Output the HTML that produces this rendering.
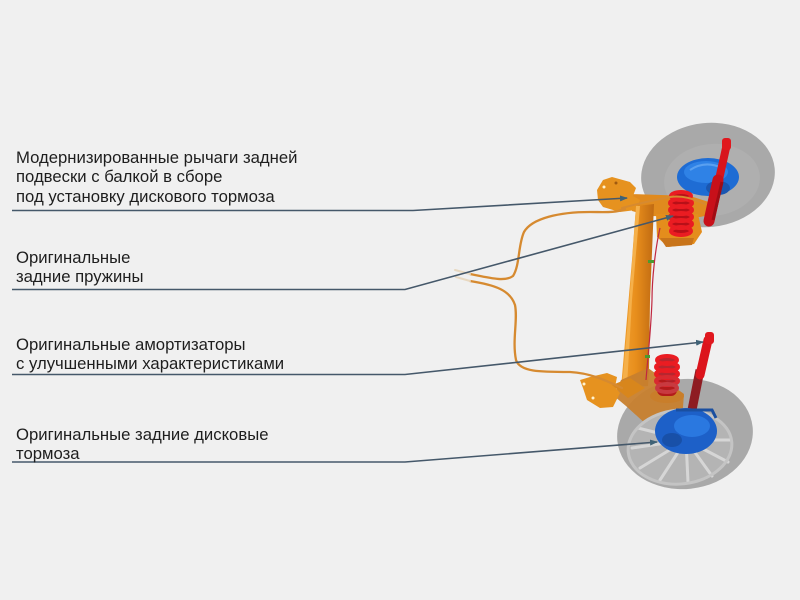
<!DOCTYPE html>
<html><head><meta charset="utf-8">
<style>
html,body{margin:0;padding:0;}
body{width:800px;height:600px;background:#f0f0f0;position:relative;overflow:hidden;font-family:"Liberation Sans",Arial,sans-serif;}
.t{position:absolute;left:16px;font-size:16.7px;line-height:19.5px;color:#1e1e1e;white-space:nowrap;}
svg{position:absolute;left:0;top:0;}
</style></head><body>
<svg width="800" height="600" viewBox="0 0 800 600">
<defs>
<marker id="ah" markerWidth="8" markerHeight="6" refX="7" refY="3" orient="auto" markerUnits="userSpaceOnUse">
<path d="M0,0 L8,3 L0,6 Z" fill="#3f6276"/>
</marker>
<linearGradient id="tube" x1="0" y1="0" x2="1" y2="0">
<stop offset="0" stop-color="#f0a030"/><stop offset="0.45" stop-color="#e88e1c"/><stop offset="1" stop-color="#c06a12"/>
</linearGradient>
</defs>

<!-- top wheel -->
<ellipse cx="708" cy="175" rx="67" ry="52" transform="rotate(-6 708 175)" fill="#a9a9a9"/>
<ellipse cx="712" cy="180" rx="48" ry="36" transform="rotate(-6 712 180)" fill="#afafaf"/>
<!-- top blue disc -->
<ellipse cx="708" cy="177" rx="31" ry="19" fill="#1e6cd4"/>
<ellipse cx="706" cy="172" rx="22" ry="11" fill="#2f82e6"/>
<path d="M690,170 Q705,160 722,168" stroke="#5aa0f0" stroke-width="2" fill="none"/>
<ellipse cx="718" cy="188" rx="12" ry="7" fill="#1a56b0"/>

<!-- top arm & bracket -->
<path d="M630,194 L690,196 L712,203 L714,214 L700,217 L650,216 L632,211 Z" fill="#e08a1e"/>
<path d="M597,190 L603,180 L612,177 L630,182 L636,188 L633,196 L640,200 L636,210 L620,212 L603,207 L598,200 Z" fill="#e6921f"/>
<circle cx="604" cy="187" r="1.5" fill="#fff3d0"/>
<circle cx="616" cy="183" r="1.5" fill="#a05a10"/>
<!-- beam tube -->
<path d="M636,206 L654,204 L650,300 L649,370 L648,386 L621,388 L626,330 L632,260 Z" fill="url(#tube)"/>
<path d="M636,206 L640,206 L632,300 L627,386 L622,387 L628,320 Z" fill="#f5b04a"/>
<!-- top spring seat -->
<path d="M656,214 L698,214 L702,232 L694,244 L668,247 L657,237 Z" fill="#e48d1c"/>
<path d="M660,238 L694,238 L692,245 L666,247 Z" fill="#c8741a"/>
<!-- top spring -->
<rect x="671" y="194" width="20" height="40" rx="6" fill="#b81018"/>
<g fill="none" stroke="#ea1c22" stroke-width="4">
<ellipse cx="681" cy="196" rx="10" ry="4"/>
<ellipse cx="681" cy="203" rx="11" ry="4"/>
<ellipse cx="681" cy="210" rx="11" ry="4"/>
<ellipse cx="681" cy="217" rx="11" ry="4"/>
<ellipse cx="681" cy="224" rx="11" ry="4"/>
<ellipse cx="681" cy="231" rx="10" ry="4"/>
</g>
<!-- top shock -->
<line x1="726" y1="148" x2="718" y2="184" stroke="#d8141c" stroke-width="8" stroke-linecap="round"/>
<line x1="718" y1="180" x2="709" y2="221" stroke="#c8101a" stroke-width="11" stroke-linecap="round"/>
<line x1="722" y1="182" x2="713" y2="220" stroke="#a00c14" stroke-width="3"/>
<rect x="722" y="138" width="9" height="12" rx="3" fill="#e0181e"/>

<!-- lower wheel -->
<ellipse cx="685" cy="434" rx="68" ry="55" transform="rotate(-6 685 434)" fill="#a9a9a9"/>
<!-- lower arm (behind, shaded) -->
<path d="M621,380 L648,368 L662,378 L684,394 L682,420 L668,432 L648,426 L626,406 L614,396 Z" fill="#c7802e" opacity="0.95"/>
<ellipse cx="680" cy="447" rx="52" ry="37" transform="rotate(-6 680 447)" fill="#b4b4b4"/>
<g stroke="#d6d6d6" stroke-width="3" stroke-linecap="round">
<line x1="686" y1="440" x2="632" y2="448"/>
<line x1="686" y1="440" x2="640" y2="468"/>
<line x1="686" y1="440" x2="660" y2="480"/>
<line x1="686" y1="440" x2="688" y2="482"/>
<line x1="686" y1="440" x2="712" y2="476"/>
<line x1="686" y1="440" x2="728" y2="462"/>
<line x1="686" y1="440" x2="730" y2="440"/>
<line x1="686" y1="440" x2="638" y2="428"/>
</g>
<ellipse cx="680" cy="447" rx="52" ry="37" transform="rotate(-6 680 447)" fill="none" stroke="#c4c4c4" stroke-width="3"/>
<!-- lower shock (behind wheel part) -->
<line x1="700" y1="370" x2="692" y2="410" stroke="#8e1c22" stroke-width="9"/>
<!-- lower blue hub -->
<ellipse cx="686" cy="431" rx="31" ry="23" fill="#1d60c8"/>
<ellipse cx="692" cy="426" rx="18" ry="11" fill="#2a78e0"/>
<path d="M676,410 L712,410 L716,418" stroke="#1a4fa0" stroke-width="3" fill="none"/>
<ellipse cx="672" cy="440" rx="10" ry="7" fill="#1850a8"/>

<!-- lower bracket plate -->
<path d="M580,380 L590,377 L607,373 L617,377 L615,387 L620,393 L613,407 L600,408 L587,400 L583,388 Z" fill="#e6921f"/>
<circle cx="584" cy="384" r="1.5" fill="#fff3d0"/>
<circle cx="593" cy="398" r="1.5" fill="#fff3d0"/>
<path d="M612,385 L630,378 L645,388 L628,398 Z" fill="#d8861c"/>
<!-- lower spring seat -->
<ellipse cx="667" cy="396" rx="17" ry="7" fill="#c97e2a"/>
<!-- lower spring -->
<rect x="657" y="358" width="20" height="38" rx="6" fill="#b01018" opacity="0.9"/>
<g fill="none" stroke="#ea1c22" stroke-width="4">
<ellipse cx="667" cy="360" rx="10" ry="4"/>
<ellipse cx="667" cy="367" rx="11" ry="4"/>
<ellipse cx="667" cy="374" rx="11" ry="4"/>
<ellipse cx="667" cy="381" rx="11" ry="4" stroke="#d82a30"/>
<ellipse cx="667" cy="388" rx="10" ry="4" stroke="#c83a40"/>
</g>
<!-- lower shock top -->
<line x1="708" y1="340" x2="700" y2="375" stroke="#dc141c" stroke-width="9" stroke-linecap="round"/>
<rect x="705" y="332" width="9" height="12" rx="3" fill="#e0181e"/>

<!-- brake cables -->
<g fill="none" stroke="#d68a30" stroke-width="2.3" stroke-linecap="round">
<path d="M470,274 C490,278 505,282 513,276 C520,265 518,245 524,232 C532,218 560,212 590,212 C605,212 615,213 625,209"/>
<path d="M470,281 C495,285 510,290 515,305 C518,320 512,340 516,360 C520,372 540,372 570,372 C590,373 605,380 622,388"/>
<path d="M622,208 C640,203 655,200 670,197 C685,195 695,200 705,204" stroke-width="2"/>
</g>
<g stroke="#e8d8c0" stroke-width="2" stroke-linecap="round">
<line x1="455" y1="270" x2="470" y2="274"/>
<line x1="456" y1="277" x2="470" y2="281"/>
</g>
<!-- red brake hose -->
<path d="M660,228 C655,250 652,280 652,300 C651,330 648,355 646,380" stroke="#c02840" stroke-width="1.2" fill="none"/>
<rect x="648" y="260" width="6" height="3" fill="#4a9a30"/>
<rect x="645" y="355" width="5" height="3" fill="#4a9a30"/>

<!-- leader lines -->
<g fill="none" stroke="#45586a" stroke-width="1.6">
<polyline points="12,210.5 413,210.5 627,198" marker-end="url(#ah)"/>
<polyline points="12,289.5 405,289.5 673,216" marker-end="url(#ah)"/>
<polyline points="12,374.5 405,374.5 703,342" marker-end="url(#ah)"/>
<polyline points="12,462 405,462 657,442" marker-end="url(#ah)"/>
</g>
</svg>

<div class="t" style="top:147.5px;">Модернизированные рычаги задней<br>подвески с балкой в сборе<br>под установку дискового тормоза</div>
<div class="t" style="top:247.5px;">Оригинальные<br>задние пружины</div>
<div class="t" style="top:334.5px;">Оригинальные амортизаторы<br>с улучшенными характеристиками</div>
<div class="t" style="top:424.5px;">Оригинальные задние дисковые<br>тормоза</div>
</body></html>
